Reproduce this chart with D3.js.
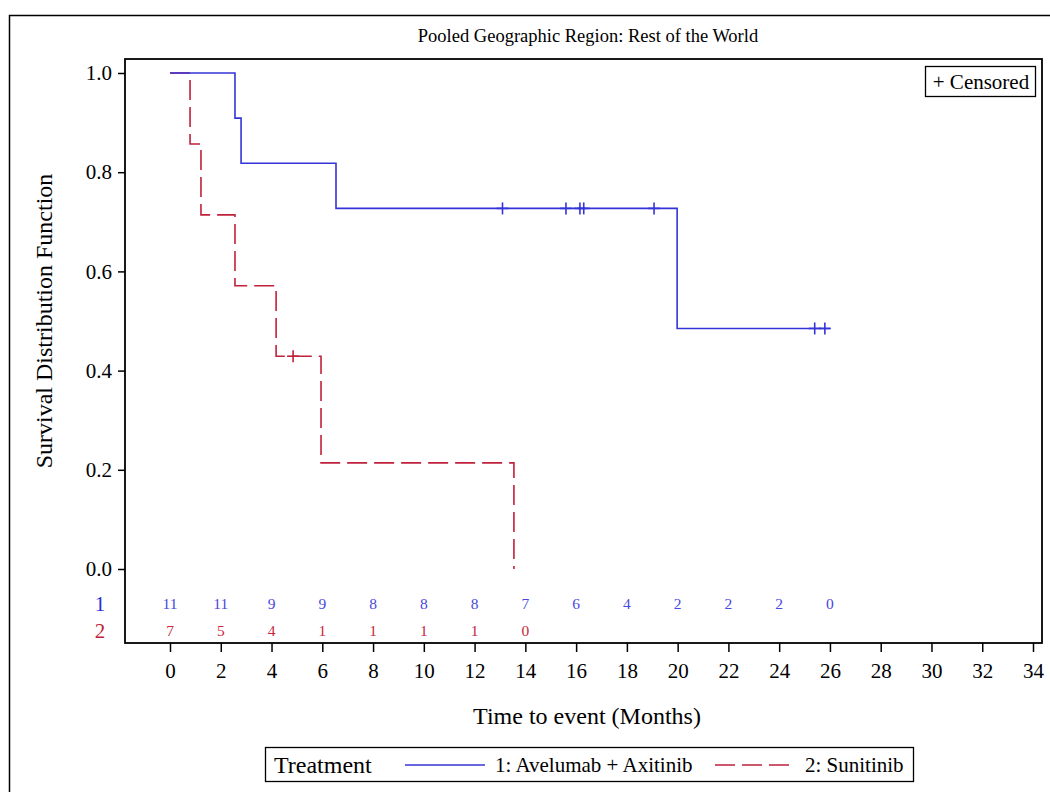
<!DOCTYPE html>
<html>
<head>
<meta charset="utf-8">
<script src="https://cdn.jsdelivr.net/npm/d3@7"></script>
<style>
  body { margin: 0; background: #fff; }
  svg { display: block; font-family: "Liberation Serif", "Times New Roman", serif; }
</style>
</head>
<body>
<svg id="chart"></svg>
<script>
// Kaplan-Meier steps
const armATimes = [0, 2.56, 2.80, 6.54, 19.98, 26.0];
const armASurv = [1.0, 0.909, 0.818, 0.727, 0.485, 0.485];
const armACensor = [13.1, 15.6, 16.15, 16.3, 19.07, 25.4, 25.8];

const armBTimes = [0, 0.79, 1.22, 2.56, 4.18, 5.95, 13.55];
const armBSurv = [1.0, 0.857, 0.714, 0.571, 0.429, 0.214, 0.0];
const armBCensor = [4.85];

// numbers at risk
const riskTimesA = [0, 2, 4, 6, 8, 10, 12, 14, 16, 18, 20, 22, 24, 26];
const riskA = [11, 11, 9, 9, 8, 8, 8, 7, 6, 4, 2, 2, 2, 0];
const riskTimesB = [0, 2, 4, 6, 8, 10, 12, 14];
const riskB = [7, 5, 4, 1, 1, 1, 1, 0];

const xTicks = [0, 2, 4, 6, 8, 10, 12, 14, 16, 18, 20, 22, 24, 26, 28, 30, 32, 34];
const yTicks = [0.0, 0.2, 0.4, 0.6, 0.8, 1.0];

const width = 1050, height = 792;
const frame = { left: 125, right: 1042, top: 59, bottom: 643 };
const blue = '#3434d8', red = '#c0213b';

const svg = d3.select('#chart').attr('width', width).attr('height', height);

svg.append('rect').attr('width', width).attr('height', height).attr('fill', '#fff');
// outer border
svg.append('rect')
  .attr('x', 9.5).attr('y', 15.5).attr('width', 1100).attr('height', 900)
  .attr('fill', 'none').attr('stroke', '#000').attr('stroke-width', 1.5);

const x = d3.scaleLinear().domain([0, 34]).range([170, 1033]);
const y = d3.scaleLinear().domain([0, 1]).range([569, 73]);

// title
svg.append('text')
  .attr('x', 588).attr('y', 42)
  .attr('text-anchor', 'middle').attr('font-size', 18.5)
  .text('Pooled Geographic Region: Rest of the World');

// axes
const xAxis = svg.append('g')
  .attr('transform', `translate(0,${frame.bottom})`)
  .call(d3.axisBottom(x).tickValues(xTicks).tickSize(9).tickSizeOuter(0).tickFormat(d3.format('d')));
xAxis.select('.domain').remove();
xAxis.selectAll('text').attr('font-size', 21).attr('font-family', 'Liberation Serif').attr('dy', '1.1em').attr('fill', '#000');
xAxis.selectAll('line').attr('stroke-width', 1.5);

const yAxis = svg.append('g')
  .attr('transform', `translate(${frame.left},0)`)
  .call(d3.axisLeft(y).tickValues(yTicks).tickSize(7).tickFormat(d3.format('.1f')));
yAxis.select('.domain').remove();
yAxis.selectAll('text').attr('font-size', 21).attr('font-family', 'Liberation Serif').attr('x', -13).attr('fill', '#000');
yAxis.selectAll('line').attr('stroke-width', 1.5);

// plot frame
svg.append('rect')
  .attr('x', frame.left).attr('y', frame.top)
  .attr('width', frame.right - frame.left).attr('height', frame.bottom - frame.top)
  .attr('fill', 'none').attr('stroke', '#000').attr('stroke-width', 1.8);

// axis titles
svg.append('text')
  .attr('x', 587).attr('y', 724)
  .attr('text-anchor', 'middle').attr('font-size', 24)
  .text('Time to event (Months)');
svg.append('text')
  .attr('transform', 'translate(52,321) rotate(-90)')
  .attr('text-anchor', 'middle').attr('font-size', 24)
  .text('Survival Distribution Function');

// curves
const step = d3.line().x(d => x(d[0])).y(d => y(d[1])).curve(d3.curveStepAfter);
const survAt = (times, surv, t) => surv[d3.bisectRight(times, t) - 1];

svg.append('path')
  .datum(armBTimes.map((t, i) => [t, armBSurv[i]]))
  .attr('fill', 'none').attr('stroke', red).attr('stroke-width', 1.6)
  .attr('stroke-dasharray', '20,7')
  .attr('d', step);

svg.append('path')
  .datum(armATimes.map((t, i) => [t, armASurv[i]]))
  .attr('fill', 'none').attr('stroke', blue).attr('stroke-width', 1.6)
  .attr('d', step);

function censorMarks(times, survTimes, surv, color) {
  const g = svg.append('g').attr('stroke', color).attr('stroke-width', 1.6);
  times.forEach(t => {
    const cx = x(t), cy = y(survAt(survTimes, surv, t));
    g.append('line').attr('x1', cx).attr('x2', cx).attr('y1', cy - 6).attr('y2', cy + 6);
    g.append('line').attr('x1', cx - 6).attr('x2', cx + 6).attr('y1', cy).attr('y2', cy);
  });
}
censorMarks(armACensor, armATimes, armASurv, blue);
censorMarks(armBCensor, armBTimes, armBSurv, red);

// at-risk table
svg.append('g').selectAll('text')
  .data(riskA).enter().append('text')
  .attr('x', (d, i) => x(riskTimesA[i])).attr('y', 609)
  .attr('text-anchor', 'middle').attr('font-size', 15.5).attr('fill', '#4848e0')
  .text(d => d);
svg.append('g').selectAll('text')
  .data(riskB).enter().append('text')
  .attr('x', (d, i) => x(riskTimesB[i])).attr('y', 636)
  .attr('text-anchor', 'middle').attr('font-size', 15.5).attr('fill', '#c8283c')
  .text(d => d);
svg.append('text').attr('x', 100).attr('y', 611).attr('text-anchor', 'middle')
  .attr('font-size', 21).attr('fill', '#2b2bd6').text('1');
svg.append('text').attr('x', 100).attr('y', 638).attr('text-anchor', 'middle')
  .attr('font-size', 21).attr('fill', red).text('2');

// censored legend
const cl = svg.append('g');
cl.append('rect').attr('x', 925.5).attr('y', 66.5).attr('width', 110).attr('height', 30)
  .attr('fill', '#fff').attr('stroke', '#000').attr('stroke-width', 1.3);
cl.append('text').attr('x', 981).attr('y', 89).attr('text-anchor', 'middle')
  .attr('font-size', 21).text('+ Censored');

// treatment legend
const lg = svg.append('g');
lg.append('rect').attr('x', 265.5).attr('y', 747.5).attr('width', 648).attr('height', 34)
  .attr('fill', '#fff').attr('stroke', '#000').attr('stroke-width', 1.3);
lg.append('text').attr('x', 274).attr('y', 773).attr('font-size', 24).text('Treatment');
lg.append('line').attr('x1', 405).attr('x2', 485).attr('y1', 765).attr('y2', 765)
  .attr('stroke', blue).attr('stroke-width', 1.6);
lg.append('text').attr('x', 495).attr('y', 772).attr('font-size', 21).text('1: Avelumab + Axitinib');
lg.append('line').attr('x1', 715).attr('x2', 795).attr('y1', 765).attr('y2', 765)
  .attr('stroke', red).attr('stroke-width', 1.6).attr('stroke-dasharray', '20,7');
lg.append('text').attr('x', 805).attr('y', 772).attr('font-size', 21).text('2: Sunitinib');
</script>
</body>
</html>
